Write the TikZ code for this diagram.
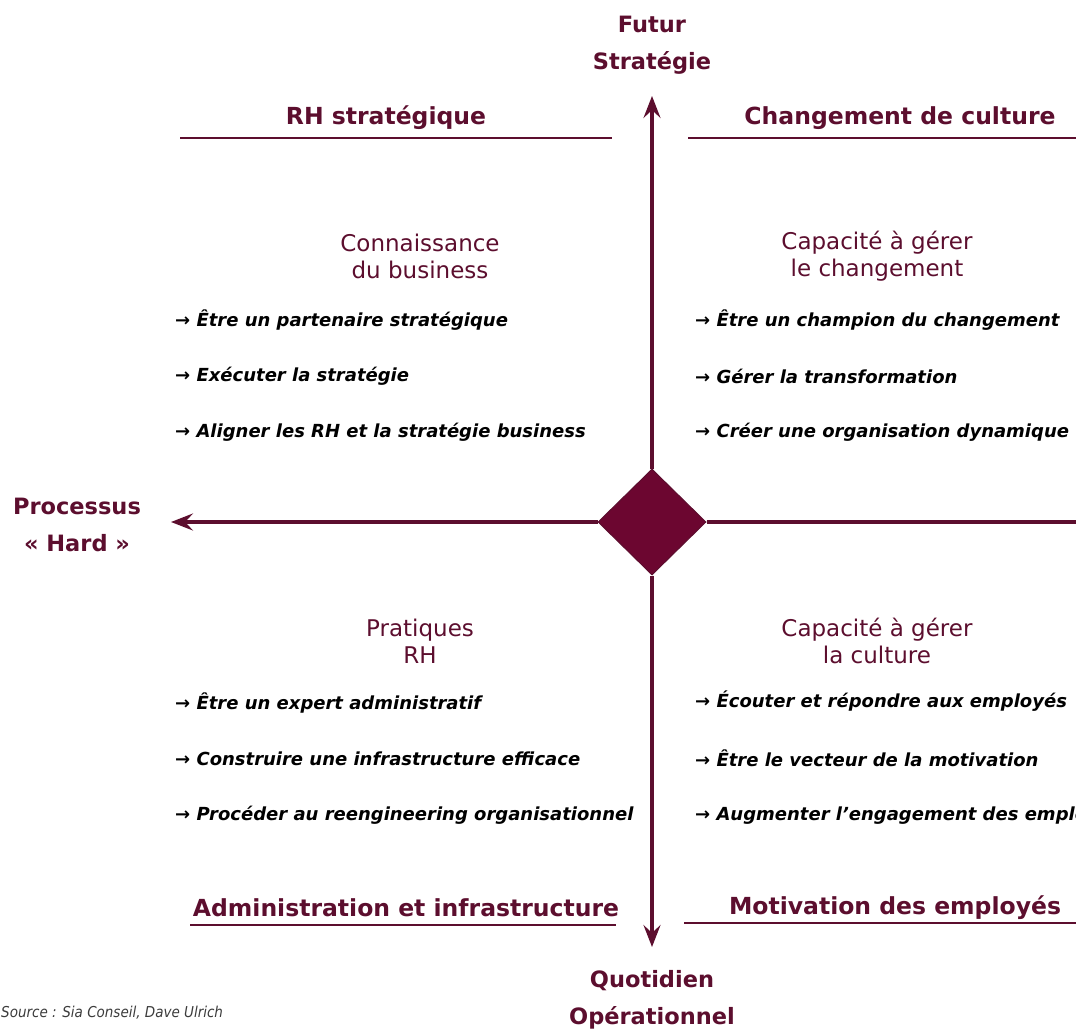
\documentclass[tikz,border=0pt]{standalone}
\usepackage{fontspec}
\setmainfont{DejaVu Sans}
\newfontfamily\narrowfont{DejaVu Sans Condensed}
\usetikzlibrary{shapes.geometric,arrows.meta}
\definecolor{wine}{RGB}{92,14,46}
\definecolor{winefill}{RGB}{108,6,48}
\definecolor{srcgrey}{RGB}{60,60,60}
\begin{document}
\begin{tikzpicture}[x=1pt,y=-1pt,
  axis/.style={draw=wine,line width=3.2pt,-{Stealth[length=22pt,width=17pt,inset=8pt]}},
  rule/.style={draw=wine,line width=1.6pt},
  pole/.style={font=\fontsize{22.5}{36.5}\selectfont\bfseries,text=wine,align=center,inner sep=0pt},
  heading/.style={font=\fontsize{23.5}{26}\selectfont\bfseries,text=wine,inner sep=0pt},
  sub/.style={font=\fontsize{23}{27}\selectfont,text=wine,align=center,inner sep=0pt},
  item/.style={font=\fontsize{18}{20}\selectfont\bfseries\itshape,text=black,anchor=west,inner sep=0pt}]
\useasboundingbox (0,0) rectangle (1076,1032);
\clip (0,0) rectangle (1076,1032);

% centre and axes
\node[diamond,fill=winefill,draw=wine,line width=1pt,minimum width=108pt,minimum height=106pt,inner sep=0pt] (hub) at (652,522) {};
\coordinate (up) at (652,96);
\coordinate (down) at (652,947);
\coordinate (left) at (171,522);
\coordinate (right) at (1090,522);
\draw[axis] (hub.north) -- (up);
\draw[axis] (hub.south) -- (down);
\draw[axis] (hub.west) -- (left);
\draw[draw=wine,line width=3.2pt] (hub.east) -- (right);

% poles
\node[pole] (fut) at (652,45) {Futur\\Stratégie};
\node[pole] (quo) at (652,1000) {Quotidien\\Opérationnel};
\node[pole] (proc) at (77,525) {Processus\\« Hard »};

% quadrant headings and rules
\node[heading] (h1) at (386,118) {RH stratégique};
\node[heading] (h2) at (900,118) {Changement de culture};
\node[heading] (h3) at (406,908) {Administration et infrastructure};
\node[heading] (h4) at (895,908) {Motivation des employés};
\coordinate (r1a) at (180,138); \coordinate (r1b) at (612,138);
\coordinate (r2a) at (688,138); \coordinate (r2b) at (1076,138);
\coordinate (r3a) at (190,925); \coordinate (r3b) at (616,925);
\coordinate (r4a) at (684,923); \coordinate (r4b) at (1076,923);
\draw[rule] (r1a) -- (r1b);
\draw[rule] (r2a) -- (r2b);
\draw[rule] (r3a) -- (r3b);
\draw[rule] (r4a) -- (r4b);

% quadrant subheadings
\node[sub] (s1) at (420,256) {Connaissance\\du business};
\node[sub] (s2) at (877,256) {Capacité à gérer\\le changement};
\node[sub] (s3) at (420,641) {Pratiques\\RH};
\node[sub] (s4) at (877,641) {Capacité à gérer\\la culture};

% roles
\node[item] (a1) at (175,320) {→ Être un partenaire stratégique};
\node[item] (a2) at (175,376) {→ Exécuter la stratégie};
\node[item] (a3) at (175,432) {→ Aligner les RH et la stratégie business};
\node[item] (b1) at (695,320) {→ Être un champion du changement};
\node[item] (b2) at (695,376) {→ Gérer la transformation};
\node[item] (b3) at (695,432) {→ Créer une organisation dynamique};
\node[item] (c1) at (175,703) {→ Être un expert administratif};
\node[item] (c2) at (175,759) {→ Construire une infrastructure efficace};
\node[item] (c3) at (175,815) {→ Procéder au reengineering organisationnel};
\node[item] (d1) at (695,701) {→ Écouter et répondre aux employés};
\node[item] (d2) at (695,758) {→ Être le vecteur de la motivation};
\node[item] (d3) at (695,815) {→ Augmenter l’engagement des employés};

% source line
\node[font=\narrowfont\fontsize{15}{17}\selectfont\itshape,text=srcgrey,anchor=west,inner sep=0pt] (src) at (1,1013) {Source : Sia Conseil, Dave Ulrich};
\end{tikzpicture}
\end{document}
